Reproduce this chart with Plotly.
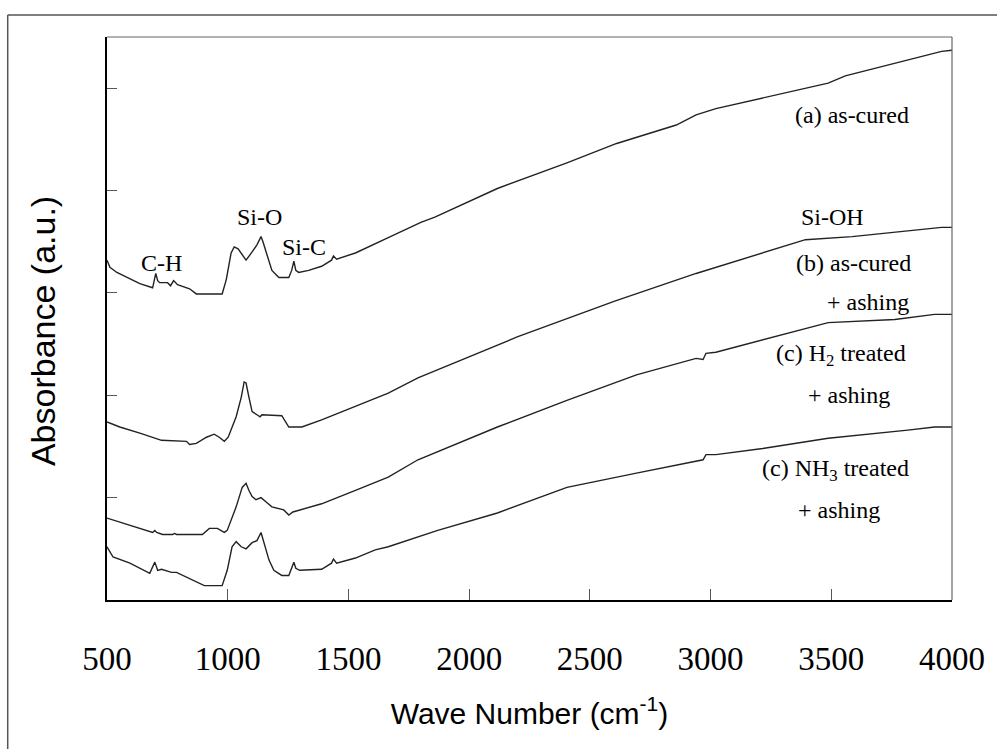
import plotly.graph_objects as go

# ---- data (wave number in cm^-1, absorbance in a.u.) ----
wn_a = [500, 512, 541, 636, 689, 702, 710, 718, 751, 763, 776, 792, 842, 870, 977, 994, 1014, 1027, 1043,
        1076, 1101, 1121, 1138, 1146, 1163, 1183, 1212, 1253, 1265, 1274, 1282, 1294, 1335, 1389, 1430,
        1438, 1451, 1529, 1665, 1800, 1858, 2117, 2405, 2611, 2858, 2940, 3022, 3487, 3558, 3957, 4000]
ab_a = [3.32, 3.25, 3.20, 3.09, 3.05, 3.19, 3.12, 3.10, 3.10, 3.07, 3.12, 3.08, 3.04, 2.99, 2.99, 3.13, 3.39,
        3.45, 3.43, 3.32, 3.40, 3.47, 3.55, 3.50, 3.37, 3.22, 3.15, 3.15, 3.22, 3.31, 3.22, 3.20, 3.22, 3.26,
        3.32, 3.36, 3.33, 3.39, 3.54, 3.69, 3.74, 4.02, 4.27, 4.46, 4.64, 4.74, 4.80, 5.05, 5.12, 5.36, 5.37]

wn_b = [500, 553, 636, 726, 829, 842, 870, 912, 944, 965, 986, 1002, 1035, 1056, 1068, 1076, 1088, 1101,
        1121, 1134, 1142, 1224, 1253, 1307, 1389, 1529, 1665, 1788, 1870, 2199, 2603, 2776, 2940, 3393,
        3586, 3957, 4000]
ab_b = [1.74, 1.69, 1.63, 1.56, 1.55, 1.52, 1.53, 1.59, 1.62, 1.59, 1.55, 1.59, 1.79, 1.98, 2.13, 2.12, 1.98,
        1.84, 1.81, 1.79, 1.81, 1.80, 1.69, 1.69, 1.76, 1.89, 2.02, 2.17, 2.25, 2.57, 2.92, 3.06, 3.19, 3.52,
        3.55, 3.64, 3.64]

wn_c = [500, 566, 636, 689, 698, 706, 730, 772, 780, 788, 895, 924, 957, 986, 998, 1035, 1060, 1076, 1088,
        1101, 1117, 1138, 1158, 1183, 1232, 1253, 1270, 1286, 1389, 1529, 1665, 1788, 1870, 2117, 2405,
        2693, 2940, 2969, 2981, 3022, 3487, 3763, 3928, 4000]
ab_c = [0.80, 0.75, 0.70, 0.66, 0.68, 0.66, 0.64, 0.64, 0.65, 0.64, 0.64, 0.70, 0.70, 0.66, 0.68, 0.91, 1.10,
        1.14, 1.07, 1.01, 0.98, 1.00, 0.96, 0.91, 0.88, 0.83, 0.86, 0.87, 0.94, 1.07, 1.20, 1.37, 1.45, 1.69,
        1.95, 2.20, 2.36, 2.35, 2.41, 2.42, 2.71, 2.74, 2.79, 2.79]

wn_d = [500, 525, 595, 677, 698, 706, 710, 726, 767, 788, 842, 903, 977, 998, 1018, 1035, 1056, 1076, 1101,
        1121, 1138, 1150, 1171, 1191, 1224, 1253, 1265, 1274, 1282, 1298, 1389, 1430, 1438, 1451, 1529,
        1611, 1665, 1788, 1870, 2117, 2405, 2693, 2940, 2969, 2981, 3022, 3216, 3487, 3817, 3928, 4000]
ab_d = [0.52, 0.42, 0.36, 0.26, 0.37, 0.32, 0.29, 0.30, 0.27, 0.27, 0.21, 0.14, 0.14, 0.29, 0.52, 0.57, 0.52,
        0.50, 0.56, 0.58, 0.66, 0.56, 0.39, 0.29, 0.24, 0.24, 0.32, 0.37, 0.31, 0.29, 0.30, 0.36, 0.40, 0.36,
        0.41, 0.49, 0.52, 0.62, 0.68, 0.85, 1.10, 1.24, 1.36, 1.37, 1.42, 1.42, 1.48, 1.58, 1.66, 1.69, 1.69]

x_ticks = [500, 1000, 1500, 2000, 2500, 3000, 3500, 4000]
y_ticks = [1, 2, 3, 4, 5]

# label texts and anchor points (wave number, absorbance)
curve_labels = [
    ("(a) as-cured", 3829, 4.74),
    ("(b) as-cured", 3837, 3.29),
    ("+ ashing", 3829, 2.91),
    ("(c) H<sub>2</sub> treated", 3817, 2.39),
    ("+ ashing", 3751, 2.00),
    ("(c) NH<sub>3</sub> treated", 3829, 1.27),
    ("+ ashing", 3710, 0.88),
]
peak_labels = [("C-H", 726, 3.29), ("Si-O", 1130, 3.74), ("Si-C", 1315, 3.45)]
sioh_label = ("Si-OH", 3368, 3.74)

LINE = dict(color="#222222", width=1.4)

fig = go.Figure()
for wn, ab, nm in [(wn_a, ab_a, "a"), (wn_b, ab_b, "b"), (wn_c, ab_c, "c"), (wn_d, ab_d, "d")]:
    fig.add_trace(go.Scatter(x=wn, y=ab, mode="lines", line=LINE, name=nm, showlegend=False))

serif = "Liberation Serif, Times New Roman, serif"
sans = "Liberation Sans, Arial, sans-serif"

ann = []
for t, x, y in curve_labels:
    ann.append(dict(x=x, y=y, text=t, xref="x", yref="y", xanchor="right", yanchor="middle",
                    showarrow=False, font=dict(family=serif, size=24, color="black")))
for t, x, y in peak_labels:
    ann.append(dict(x=x, y=y, text=t, xref="x", yref="y", xanchor="center", yanchor="middle",
                    showarrow=False, font=dict(family=serif, size=24, color="black")))
ann.append(dict(x=sioh_label[1], y=sioh_label[2], text=sioh_label[0], xref="x", yref="y",
                xanchor="left", yanchor="middle", showarrow=False,
                font=dict(family=serif, size=24, color="black")))
# y axis title
ann.append(dict(x=-0.075, y=0.477, xref="paper", yref="paper", text="Absorbance (a.u.)", textangle=-90,
                showarrow=False, xanchor="center", yanchor="middle",
                font=dict(family=sans, size=34, color="black")))

shapes = [
    # top and right frame of plot area
    dict(type="line", xref="paper", yref="paper", x0=0, x1=1, y0=1, y1=1, line=dict(color="#666666", width=1.2)),
    dict(type="line", xref="paper", yref="paper", x0=1, x1=1, y0=0, y1=1, line=dict(color="#666666", width=1.2)),
    # outer picture frame (top and left)
    dict(type="line", xref="paper", yref="paper", x0=-0.1175, x1=1.06, y0=1.0391, y1=1.0391,
         line=dict(color="#555555", width=1.5)),
    dict(type="line", xref="paper", yref="paper", x0=-0.1175, x1=-0.1175, y0=1.0391, y1=-0.28,
         line=dict(color="#555555", width=1.5)),
]

fig.update_layout(
    width=997, height=749,
    margin=dict(l=107, r=39, t=37, b=149),
    paper_bgcolor="white", plot_bgcolor="white",
    annotations=ann, shapes=shapes,
    xaxis=dict(range=[500, 4000], tickvals=x_ticks, ticktext=[str(v) for v in x_ticks],
               ticks="inside", ticklen=11, tickcolor="#555555", tickwidth=1.2,
               showline=True, linecolor="black", linewidth=2, showgrid=False, zeroline=False,
               tickfont=dict(family=serif, size=33, color="black"), ticklabelstandoff=28,
               title=dict(text="Wave Number (cm<sup>-1</sup>)", font=dict(family=sans, size=30, color="black"),
                          standoff=27)),
    yaxis=dict(range=[0, 5.5], tickvals=y_ticks, showticklabels=False,
               ticks="inside", ticklen=10, tickcolor="#555555", tickwidth=1.2,
               showline=True, linecolor="black", linewidth=2, showgrid=False, zeroline=False),
)

fig.write_html("out.html")
